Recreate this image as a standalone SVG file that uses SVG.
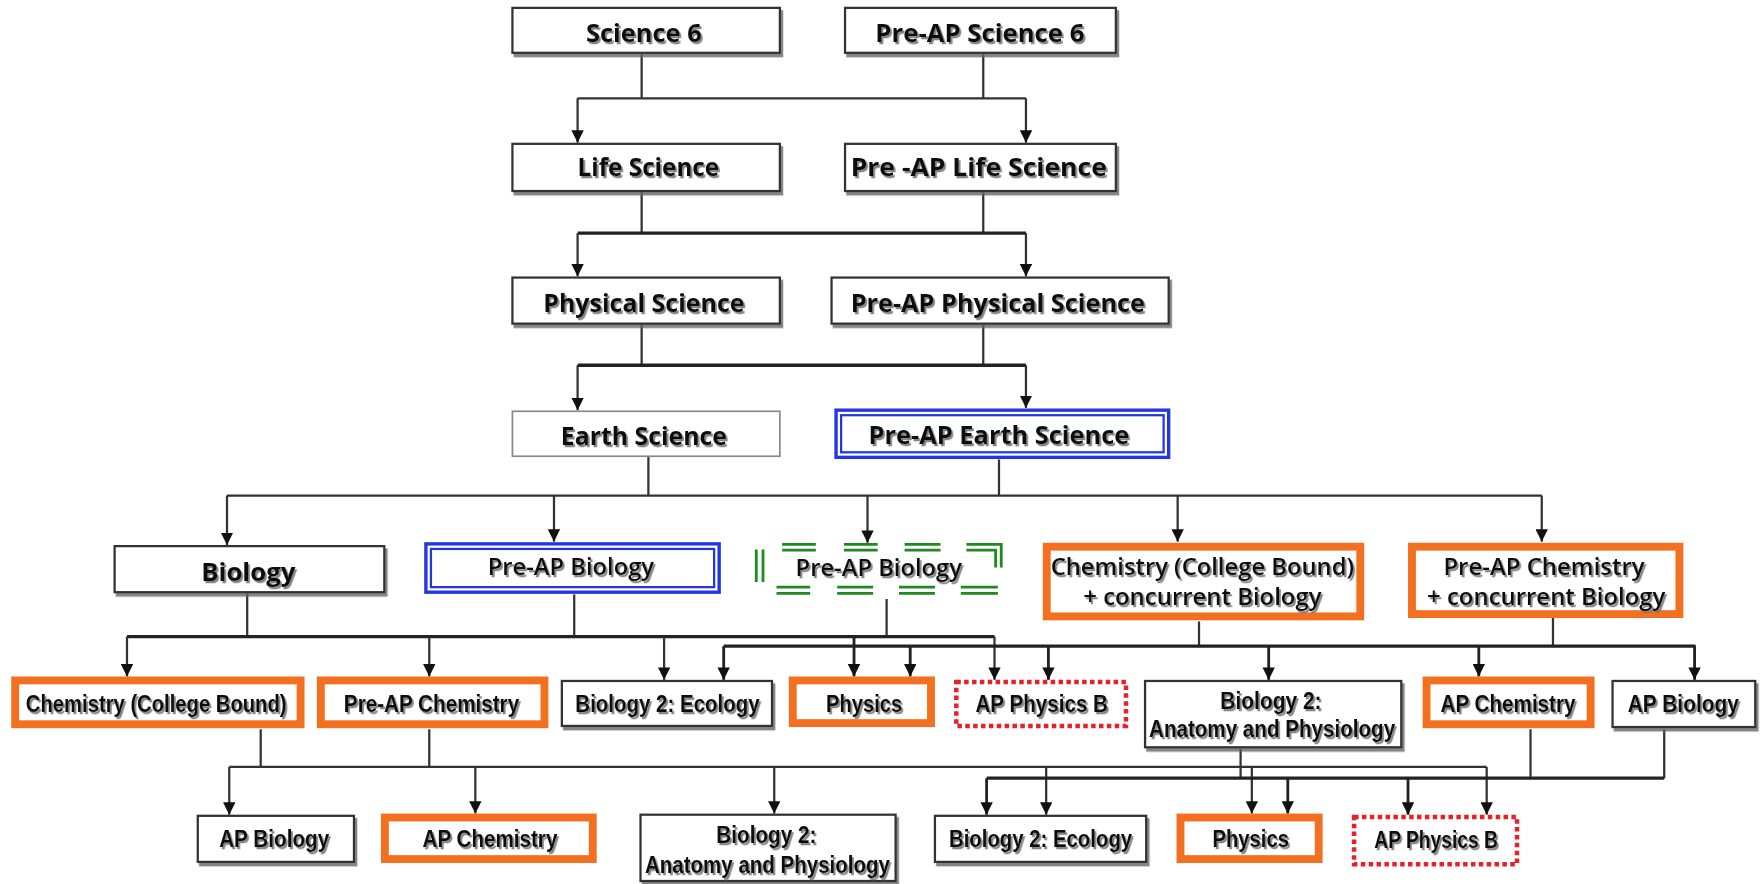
<svg xmlns="http://www.w3.org/2000/svg" width="1762" height="884" viewBox="0 0 1762 884">
<defs>
<marker id="ah" viewBox="0 0 12 12" refX="12" refY="6" markerWidth="11" markerHeight="11" markerUnits="userSpaceOnUse" orient="auto">
<path d="M0,0 L12,6 L0,12 z" fill="#111"/>
</marker>
<filter id="ts" x="-5%" y="-20%" width="115%" height="150%">
<feDropShadow dx="1.6" dy="2" stdDeviation="0.5" flood-color="#777" flood-opacity="0.9"/>
</filter>
<filter id="bs" x="-5%" y="-10%" width="115%" height="130%">
<feDropShadow dx="2" dy="3" stdDeviation="0.5" flood-color="#666" flood-opacity="0.8"/>
</filter>
</defs>
<style>
.t{font-family:"Open Sans","DejaVu Sans",sans-serif;font-weight:bold;font-size:22.5px;fill:#111;text-anchor:middle;filter:url(#ts)}
.m{font-family:"Open Sans","DejaVu Sans",sans-serif;font-weight:600;font-size:20px;fill:#111;text-anchor:middle;filter:url(#ts)}
.n{font-family:"Liberation Sans","Arial",sans-serif;font-weight:bold;font-size:22px;fill:#111;text-anchor:middle;filter:url(#ts)}
.plain{fill:#fff;stroke:#333;stroke-width:2;filter:url(#bs)}
.thin{fill:#fff;stroke:#888;stroke-width:1.5}
.bo{fill:#fff;stroke:#2436e0;stroke-width:3}
.bi{fill:none;stroke:#2436e0;stroke-width:2}
.orange{fill:#fff;stroke:#f37021;stroke-width:7}
.red{fill:#fff;stroke:#e8202a;stroke-width:4;stroke-dasharray:4 3}
.c{fill:none;stroke:#333;stroke-width:2}
.cb{fill:none;stroke:#222;stroke-width:3}
.a{fill:none;stroke:#333;stroke-width:2;marker-end:url(#ah)}
.ab{fill:none;stroke:#222;stroke-width:2.5;marker-end:url(#ah)}
.g{fill:none;stroke:#1f8a1f;stroke-width:2.5}
</style>
<rect width="1762" height="884" fill="#fff"/>
<g transform="scale(1.12372)">
<g id="connectors">
<path class="c" d="M571,47.5 V87.5 M875,47.5 V87.5 M514,87.5 H913"/>
<path class="a" d="M514,87.5 V127"/>
<path class="a" d="M913,87.5 V127"/>
<path class="c" d="M571,170 V207.5 M875,170 V207.5"/>
<path class="cb" d="M514,207.5 H913"/>
<path class="a" d="M514,207.5 V246"/>
<path class="a" d="M913,207.5 V246"/>
<path class="c" d="M571,288 V325 M875,288 V325"/>
<path class="cb" d="M514,325 H913"/>
<path class="a" d="M514,325 V365"/>
<path class="a" d="M913,325 V363"/>
<path class="c" d="M577,406 V441 M889,409 V441 M202,441 H1372"/>
<path class="a" d="M202,441 V485"/>
<path class="a" d="M493,441 V482"/>
<path class="a" d="M772,441 V483"/>
<path class="a" d="M1048,441 V482"/>
<path class="a" d="M1372,441 V482"/>
<path class="c" d="M220,527 V566.5 M511,529 V566.5 M789,533 V566.5"/>
<path class="cb" d="M113,566.5 H885"/>
<path class="a" d="M113,566.5 V602"/>
<path class="a" d="M382,566.5 V602"/>
<path class="a" d="M591,566.5 V605"/>
<path class="ab" d="M760,566.5 V602"/>
<path class="a" d="M885,566.5 V605"/>
<path class="c" d="M1067,553 V575 M1382,550 V575"/>
<path class="cb" d="M644,575 H1509"/>
<path class="ab" d="M644,575 V605"/>
<path class="ab" d="M810,575 V602"/>
<path class="ab" d="M933,575 V605"/>
<path class="ab" d="M1129,575 V605"/>
<path class="ab" d="M1316,575 V602"/>
<path class="ab" d="M1508,575 V605"/>
<path class="c" d="M232,649 V682.5 M382,649 V682.5"/>
<path class="c" stroke="#555" d="M204,682.5 H1323"/>
<path class="a" d="M204,682.5 V725"/>
<path class="a" d="M423,682.5 V724"/>
<path class="a" d="M689,682.5 V724"/>
<path class="a" d="M931,682.5 V725"/>
<path class="a" d="M1114,682.5 V724"/>
<path class="a" d="M1323,682.5 V725"/>
<path class="c" d="M1104,666 V692.5 M1362,649 V692.5 M1481,649 V692.5"/>
<path class="cb" d="M878,692.5 H1481"/>
<path class="ab" d="M878,692.5 V725"/>
<path class="ab" d="M1146,692.5 V724"/>
<path class="ab" d="M1253,692.5 V725"/>
</g>

<g id="science6"><rect class="plain" x="456" y="7" width="238" height="40"/><text class="t" x="573" y="37" textLength="103" lengthAdjust="spacingAndGlyphs">Science 6</text></g>
<g id="preap-science6"><rect class="plain" x="752" y="7" width="241" height="40"/><text class="t" x="872" y="37" textLength="186" lengthAdjust="spacingAndGlyphs">Pre-AP Science 6</text></g>

<g id="life-science"><rect class="plain" x="456" y="128" width="238" height="42"/><text class="t" x="577" y="157" textLength="126" lengthAdjust="spacingAndGlyphs">Life Science</text></g>
<g id="preap-life-science"><rect class="plain" x="752" y="128" width="241" height="42"/><text class="t" x="871" y="157" textLength="228" lengthAdjust="spacingAndGlyphs">Pre -AP Life Science</text></g>

<g id="physical-science"><rect class="plain" x="456" y="247" width="238" height="41"/><text class="t" x="573" y="278" textLength="179" lengthAdjust="spacingAndGlyphs">Physical Science</text></g>
<g id="preap-physical-science"><rect class="plain" x="740" y="247" width="300" height="41"/><text class="t" x="888" y="278" textLength="262" lengthAdjust="spacingAndGlyphs">Pre-AP Physical Science</text></g>

<g id="earth-science"><rect class="thin" x="456" y="366" width="238" height="40"/><text class="t" x="573" y="396" textLength="148" lengthAdjust="spacingAndGlyphs">Earth Science</text></g>
<g id="preap-earth-science"><rect class="bo" x="744" y="365" width="296" height="42"/><rect class="bi" x="748.5" y="369.5" width="287" height="33"/><text class="t" x="889" y="395" textLength="232" lengthAdjust="spacingAndGlyphs">Pre-AP Earth Science</text></g>

<g id="biology"><rect class="plain" x="102" y="486" width="240" height="41"/><text class="t" x="221" y="517" textLength="84" lengthAdjust="spacingAndGlyphs">Biology</text></g>
<g id="preap-biology-blue"><rect class="bo" x="379" y="484" width="261" height="43"/><rect class="bi" x="383.5" y="488.5" width="252" height="34"/><text class="m" x="508" y="512" textLength="148" lengthAdjust="spacingAndGlyphs">Pre-AP Biology</text></g>
<g id="preap-biology-green">
<path class="g" d="M696,484.5 H726 M751,484.5 H781 M805,484.5 H837 M860,484.5 H891 V505 M696,489.5 H726 M751,489.5 H781 M805,489.5 H837 M860,489.5 H886 V505"/>
<path class="g" d="M673,489 V518 M679,489 V518"/>
<path class="g" d="M691,522.5 H721 M745,522.5 H777 M800,522.5 H832 M855,522.5 H888 M691,528 H721 M745,528 H777 M800,528 H832 M855,528 H888"/>
<text class="m" x="782" y="513" textLength="148" lengthAdjust="spacingAndGlyphs">Pre-AP Biology</text>
</g>
<g id="chem-cb-concurrent"><rect class="orange" x="931.5" y="486.5" width="279" height="62"/><text class="m" x="1070" y="512" textLength="270" lengthAdjust="spacingAndGlyphs">Chemistry (College Bound)</text><text class="m" x="1070" y="538" textLength="212" lengthAdjust="spacingAndGlyphs">+ concurrent Biology</text></g>
<g id="preap-chem-concurrent"><rect class="orange" x="1256.5" y="486.5" width="238" height="60"/><text class="m" x="1374" y="512" textLength="179" lengthAdjust="spacingAndGlyphs">Pre-AP Chemistry</text><text class="m" x="1376" y="538" textLength="212" lengthAdjust="spacingAndGlyphs">+ concurrent Biology</text></g>

<g id="chem-cb"><rect class="orange" x="13.5" y="605.5" width="254" height="39"/><text class="n" x="139" y="634" textLength="232" lengthAdjust="spacingAndGlyphs">Chemistry (College Bound)</text></g>
<g id="preap-chem"><rect class="orange" x="285.5" y="605.5" width="199" height="39"/><text class="n" x="384" y="634" textLength="156" lengthAdjust="spacingAndGlyphs">Pre-AP Chemistry</text></g>
<g id="bio2-ecology-1"><rect class="plain" x="500" y="606" width="187" height="40"/><text class="n" x="594" y="634" textLength="164" lengthAdjust="spacingAndGlyphs">Biology 2: Ecology</text></g>
<g id="physics-1"><rect class="orange" x="705.5" y="605.5" width="123" height="38"/><text class="n" x="769" y="634" textLength="68" lengthAdjust="spacingAndGlyphs">Physics</text></g>
<g id="ap-physics-b-1"><rect class="red" x="851" y="607" width="151" height="39"/><text class="n" x="927" y="634" textLength="118" lengthAdjust="spacingAndGlyphs">AP Physics B</text></g>
<g id="bio2-anatomy-1"><rect class="plain" x="1019" y="606" width="228" height="59"/><text class="n" x="1131" y="631" textLength="90" lengthAdjust="spacingAndGlyphs">Biology 2:</text><text class="n" x="1132" y="656" textLength="219" lengthAdjust="spacingAndGlyphs">Anatomy and Physiology</text></g>
<g id="ap-chem-1"><rect class="orange" x="1269.5" y="605.5" width="146" height="39"/><text class="n" x="1342" y="634" textLength="120" lengthAdjust="spacingAndGlyphs">AP Chemistry</text></g>
<g id="ap-bio-1"><rect class="plain" x="1435" y="606" width="127" height="41"/><text class="n" x="1498" y="634" textLength="99" lengthAdjust="spacingAndGlyphs">AP Biology</text></g>

<g id="ap-bio-2"><rect class="plain" x="176" y="726" width="139" height="41"/><text class="n" x="244" y="754" textLength="98" lengthAdjust="spacingAndGlyphs">AP Biology</text></g>
<g id="ap-chem-2"><rect class="orange" x="342.5" y="727.5" width="185" height="37"/><text class="n" x="436" y="754" textLength="120" lengthAdjust="spacingAndGlyphs">AP Chemistry</text></g>
<g id="bio2-anatomy-2"><rect class="plain" x="570" y="725" width="227" height="59"/><text class="n" x="682" y="750" textLength="89" lengthAdjust="spacingAndGlyphs">Biology 2:</text><text class="n" x="683" y="777" textLength="218" lengthAdjust="spacingAndGlyphs">Anatomy and Physiology</text></g>
<g id="bio2-ecology-2"><rect class="plain" x="832" y="726" width="188" height="41"/><text class="n" x="926" y="754" textLength="163" lengthAdjust="spacingAndGlyphs">Biology 2: Ecology</text></g>
<g id="physics-2"><rect class="orange" x="1050.5" y="727.5" width="123" height="37"/><text class="n" x="1113" y="754" textLength="68" lengthAdjust="spacingAndGlyphs">Physics</text></g>
<g id="ap-physics-b-2"><rect class="red" x="1205" y="727" width="145" height="42"/><text class="n" x="1278" y="755" textLength="110" lengthAdjust="spacingAndGlyphs">AP Physics B</text></g>
</g>
</svg>
